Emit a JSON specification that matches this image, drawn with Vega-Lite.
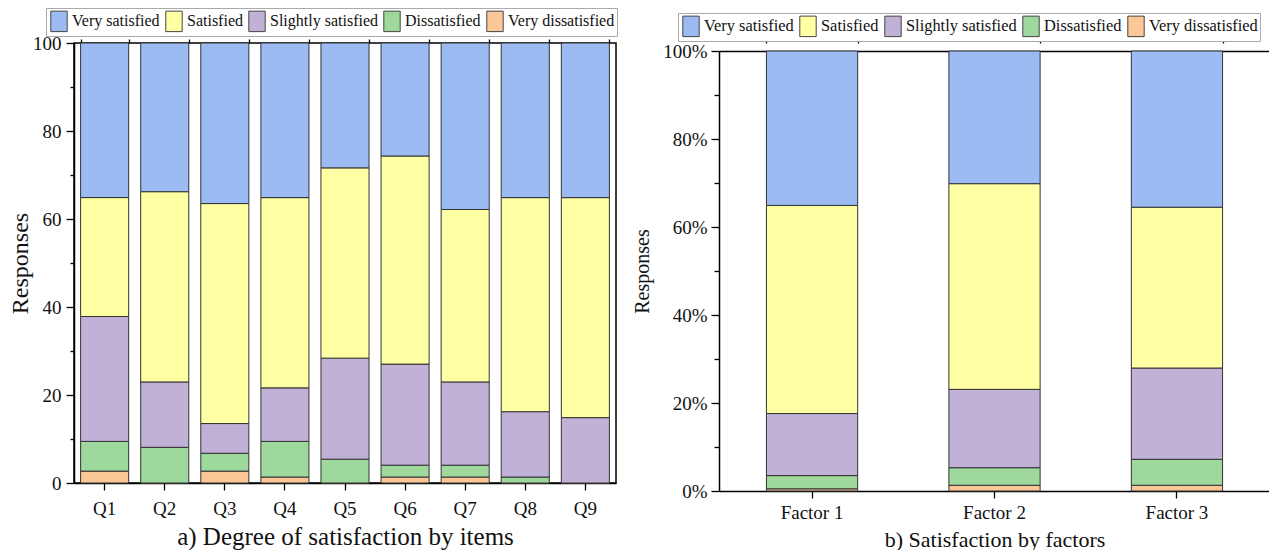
{
  "$schema": "https://vega.github.io/schema/vega-lite/v6.json",
  "background": "white",
  "padding": {"left": 7, "top": 6, "right": 0, "bottom": 0},
  "spacing": 13,
  "config": {
    "font": "Liberation Serif",
    "view": {"stroke": "#000", "strokeWidth": 1.5},
    "axis": {
      "labelFont": "Liberation Serif", "titleFont": "Liberation Serif",
      "labelFontSize": 19, "titleFontSize": 24, "titleFontWeight": "normal",
      "labelColor": "#111", "titleColor": "#111",
      "domainColor": "#000", "domainWidth": 1.5, "tickColor": "#000", "tickWidth": 1.3,
      "grid": false
    },
    "legend": {"labelFont": "Liberation Serif", "labelFontSize": 16, "labelColor": "#111"}
  },
  "datasets": {
    "items": [
      {"x": "Q1", "cat": "Very dissatisfied", "rank": 1, "v": 2.70},
      {"x": "Q1", "cat": "Dissatisfied", "rank": 2, "v": 6.76},
      {"x": "Q1", "cat": "Slightly satisfied", "rank": 3, "v": 28.38},
      {"x": "Q1", "cat": "Satisfied", "rank": 4, "v": 27.03},
      {"x": "Q1", "cat": "Very satisfied", "rank": 5, "v": 35.13},
      {"x": "Q2", "cat": "Very dissatisfied", "rank": 1, "v": 0},
      {"x": "Q2", "cat": "Dissatisfied", "rank": 2, "v": 8.11},
      {"x": "Q2", "cat": "Slightly satisfied", "rank": 3, "v": 14.86},
      {"x": "Q2", "cat": "Satisfied", "rank": 4, "v": 43.24},
      {"x": "Q2", "cat": "Very satisfied", "rank": 5, "v": 33.79},
      {"x": "Q3", "cat": "Very dissatisfied", "rank": 1, "v": 2.70},
      {"x": "Q3", "cat": "Dissatisfied", "rank": 2, "v": 4.05},
      {"x": "Q3", "cat": "Slightly satisfied", "rank": 3, "v": 6.76},
      {"x": "Q3", "cat": "Satisfied", "rank": 4, "v": 50.00},
      {"x": "Q3", "cat": "Very satisfied", "rank": 5, "v": 36.49},
      {"x": "Q4", "cat": "Very dissatisfied", "rank": 1, "v": 1.35},
      {"x": "Q4", "cat": "Dissatisfied", "rank": 2, "v": 8.11},
      {"x": "Q4", "cat": "Slightly satisfied", "rank": 3, "v": 12.16},
      {"x": "Q4", "cat": "Satisfied", "rank": 4, "v": 43.24},
      {"x": "Q4", "cat": "Very satisfied", "rank": 5, "v": 35.14},
      {"x": "Q5", "cat": "Very dissatisfied", "rank": 1, "v": 0},
      {"x": "Q5", "cat": "Dissatisfied", "rank": 2, "v": 5.41},
      {"x": "Q5", "cat": "Slightly satisfied", "rank": 3, "v": 22.97},
      {"x": "Q5", "cat": "Satisfied", "rank": 4, "v": 43.24},
      {"x": "Q5", "cat": "Very satisfied", "rank": 5, "v": 28.38},
      {"x": "Q6", "cat": "Very dissatisfied", "rank": 1, "v": 1.35},
      {"x": "Q6", "cat": "Dissatisfied", "rank": 2, "v": 2.70},
      {"x": "Q6", "cat": "Slightly satisfied", "rank": 3, "v": 22.97},
      {"x": "Q6", "cat": "Satisfied", "rank": 4, "v": 47.30},
      {"x": "Q6", "cat": "Very satisfied", "rank": 5, "v": 25.68},
      {"x": "Q7", "cat": "Very dissatisfied", "rank": 1, "v": 1.35},
      {"x": "Q7", "cat": "Dissatisfied", "rank": 2, "v": 2.70},
      {"x": "Q7", "cat": "Slightly satisfied", "rank": 3, "v": 18.92},
      {"x": "Q7", "cat": "Satisfied", "rank": 4, "v": 39.19},
      {"x": "Q7", "cat": "Very satisfied", "rank": 5, "v": 37.84},
      {"x": "Q8", "cat": "Very dissatisfied", "rank": 1, "v": 0},
      {"x": "Q8", "cat": "Dissatisfied", "rank": 2, "v": 1.35},
      {"x": "Q8", "cat": "Slightly satisfied", "rank": 3, "v": 14.86},
      {"x": "Q8", "cat": "Satisfied", "rank": 4, "v": 48.65},
      {"x": "Q8", "cat": "Very satisfied", "rank": 5, "v": 35.14},
      {"x": "Q9", "cat": "Very dissatisfied", "rank": 1, "v": 0},
      {"x": "Q9", "cat": "Dissatisfied", "rank": 2, "v": 0},
      {"x": "Q9", "cat": "Slightly satisfied", "rank": 3, "v": 14.86},
      {"x": "Q9", "cat": "Satisfied", "rank": 4, "v": 50.00},
      {"x": "Q9", "cat": "Very satisfied", "rank": 5, "v": 35.14}
    ],
    "factors": [
      {"x": "Factor 1", "cat": "Very dissatisfied", "rank": 1, "v": 0.5},
      {"x": "Factor 1", "cat": "Dissatisfied", "rank": 2, "v": 3.0},
      {"x": "Factor 1", "cat": "Slightly satisfied", "rank": 3, "v": 14.1},
      {"x": "Factor 1", "cat": "Satisfied", "rank": 4, "v": 47.3},
      {"x": "Factor 1", "cat": "Very satisfied", "rank": 5, "v": 35.1},
      {"x": "Factor 2", "cat": "Very dissatisfied", "rank": 1, "v": 1.3},
      {"x": "Factor 2", "cat": "Dissatisfied", "rank": 2, "v": 4.0},
      {"x": "Factor 2", "cat": "Slightly satisfied", "rank": 3, "v": 17.8},
      {"x": "Factor 2", "cat": "Satisfied", "rank": 4, "v": 46.75},
      {"x": "Factor 2", "cat": "Very satisfied", "rank": 5, "v": 30.15},
      {"x": "Factor 3", "cat": "Very dissatisfied", "rank": 1, "v": 1.3},
      {"x": "Factor 3", "cat": "Dissatisfied", "rank": 2, "v": 5.9},
      {"x": "Factor 3", "cat": "Slightly satisfied", "rank": 3, "v": 20.75},
      {"x": "Factor 3", "cat": "Satisfied", "rank": 4, "v": 36.55},
      {"x": "Factor 3", "cat": "Very satisfied", "rank": 5, "v": 35.5}
    ]
  },
  "hconcat": [
    {
      "width": 542, "height": 440,
      "data": {"name": "items"},
      "layer": [
        {
          "mark": {"type": "bar", "stroke": "#333", "strokeWidth": 1},
          "encoding": {
            "x": {"field": "x", "type": "nominal", "sort": null,
                  "scale": {"paddingInner": 0.2, "paddingOuter": 0.11},
                  "axis": {"title": "a) Degree of satisfaction by items", "titleFontSize": 25, "labelAngle": 0, "tickSize": 7, "labelPadding": 9, "titlePadding": 6, "tickBand": "center"}},
            "y": {"field": "v", "type": "quantitative", "stack": "zero",
                  "scale": {"domain": [0, 100], "nice": false},
                  "axis": {"title": "Responses", "values": [0,10,20,30,40,50,60,70,80,90,100],
                           "labelExpr": "datum.value % 20 === 0 ? datum.label : ''",
                           "tickSize": {"condition": {"test": "datum.value % 20 === 0", "value": 8}, "value": 4},
                           "labelPadding": 5, "titlePadding": 0}},
            "order": {"field": "rank", "type": "quantitative"},
            "color": {"field": "cat", "type": "nominal",
                      "scale": {"domain": ["Very satisfied", "Satisfied", "Slightly satisfied", "Dissatisfied", "Very dissatisfied"],
                                "range": ["#9BBBF2", "#FFFFA3", "#C1B1D6", "#9ED89C", "#FCC797"]},
                      "legend": {"title": null, "orient": "none", "legendX": -28, "legendY": -35, "direction": "horizontal",
                                 "columns": 5, "symbolType": "M-0.8,-1H0.8V1H-0.8Z", "symbolSize": 420,
                                 "symbolStrokeColor": "#444", "symbolStrokeWidth": 1, "symbolOpacity": 1,
                                 "labelOffset": 2, "columnPadding": 3, "padding": 2, "strokeColor": "#aaa", "fillColor": "white"}}
          }
        },
        {
          "mark": {"type": "bar", "opacity": 0},
          "encoding": {
            "x": {"field": "x", "type": "nominal", "sort": null,
                  "axis": {"title": null, "labels": false, "domain": false, "tickSize": 4, "tickBand": "extent"}},
            "y": {"field": "v", "type": "quantitative", "stack": "zero"}
          }
        }
      ],
      "resolve": {"axis": {"x": "independent"}}
    },
    {
      "width": 551, "height": 448,
      "view": {"stroke": null},
      "data": {"name": "factors"},
      "layer": [
        {
          "mark": {"type": "bar", "stroke": "#333", "strokeWidth": 1},
          "encoding": {
            "x": {"field": "x", "type": "nominal", "sort": null,
                  "scale": {"paddingInner": 0.5, "paddingOuter": 0.26},
                  "axis": {"title": "b) Satisfaction by factors", "titleFontSize": 22, "labelAngle": 0, "tickSize": 7, "labelPadding": 5, "titlePadding": 7, "tickBand": "center"}},
            "y": {"field": "v", "type": "quantitative", "stack": "zero",
                  "scale": {"domain": [0, 100], "nice": false, "range": [448, 8]},
                  "axis": {"title": "Responses", "titleFontSize": 20, "values": [0,10,20,30,40,50,60,70,80,90,100],
                           "labelExpr": "datum.value % 20 === 0 ? datum.value + '%' : ''",
                           "tickSize": {"condition": {"test": "datum.value % 20 === 0", "value": 8}, "value": 5},
                           "labelPadding": 4, "titlePadding": 10}},
            "order": {"field": "rank", "type": "quantitative"},
            "color": {"field": "cat", "type": "nominal",
                      "scale": {"domain": ["Very satisfied", "Satisfied", "Slightly satisfied", "Dissatisfied", "Very dissatisfied"],
                                "range": ["#9BBBF2", "#FFFFA3", "#C1B1D6", "#9ED89C", "#FCC797"]},
                      "legend": {"title": null, "orient": "none", "legendX": -41, "legendY": -30, "direction": "horizontal",
                                 "columns": 5, "symbolType": "M-0.8,-1H0.8V1H-0.8Z", "symbolSize": 420, "labelFontSize": 16.4,
                                 "symbolStrokeColor": "#444", "symbolStrokeWidth": 1, "symbolOpacity": 1,
                                 "labelOffset": 2, "columnPadding": 3, "padding": 2, "strokeColor": "#aaa", "fillColor": "white"}}
          }
        },
        {
          "mark": {"type": "bar", "opacity": 0},
          "encoding": {
            "x": {"field": "x", "type": "nominal", "sort": null,
                  "axis": {"title": null, "labels": false, "domain": false, "tickSize": 7, "tickBand": "extent"}},
            "y": {"field": "v", "type": "quantitative", "stack": "zero", "axis": null}
          }
        },
        {
          "mark": {"type": "bar", "opacity": 0},
          "encoding": {
            "x": {"field": "x", "type": "nominal", "sort": null,
                  "axis": {"orient": "top", "title": null, "labels": false, "ticks": false, "offset": -8}},
            "y": {"field": "v", "type": "quantitative", "stack": "zero",
                  "axis": {"orient": "right", "title": null, "labels": false, "ticks": false}}
          }
        }
      ],
      "resolve": {"axis": {"x": "independent", "y": "independent"}}
    }
  ],
  "resolve": {"legend": {"color": "independent"}, "scale": {"color": "independent"}}
}
